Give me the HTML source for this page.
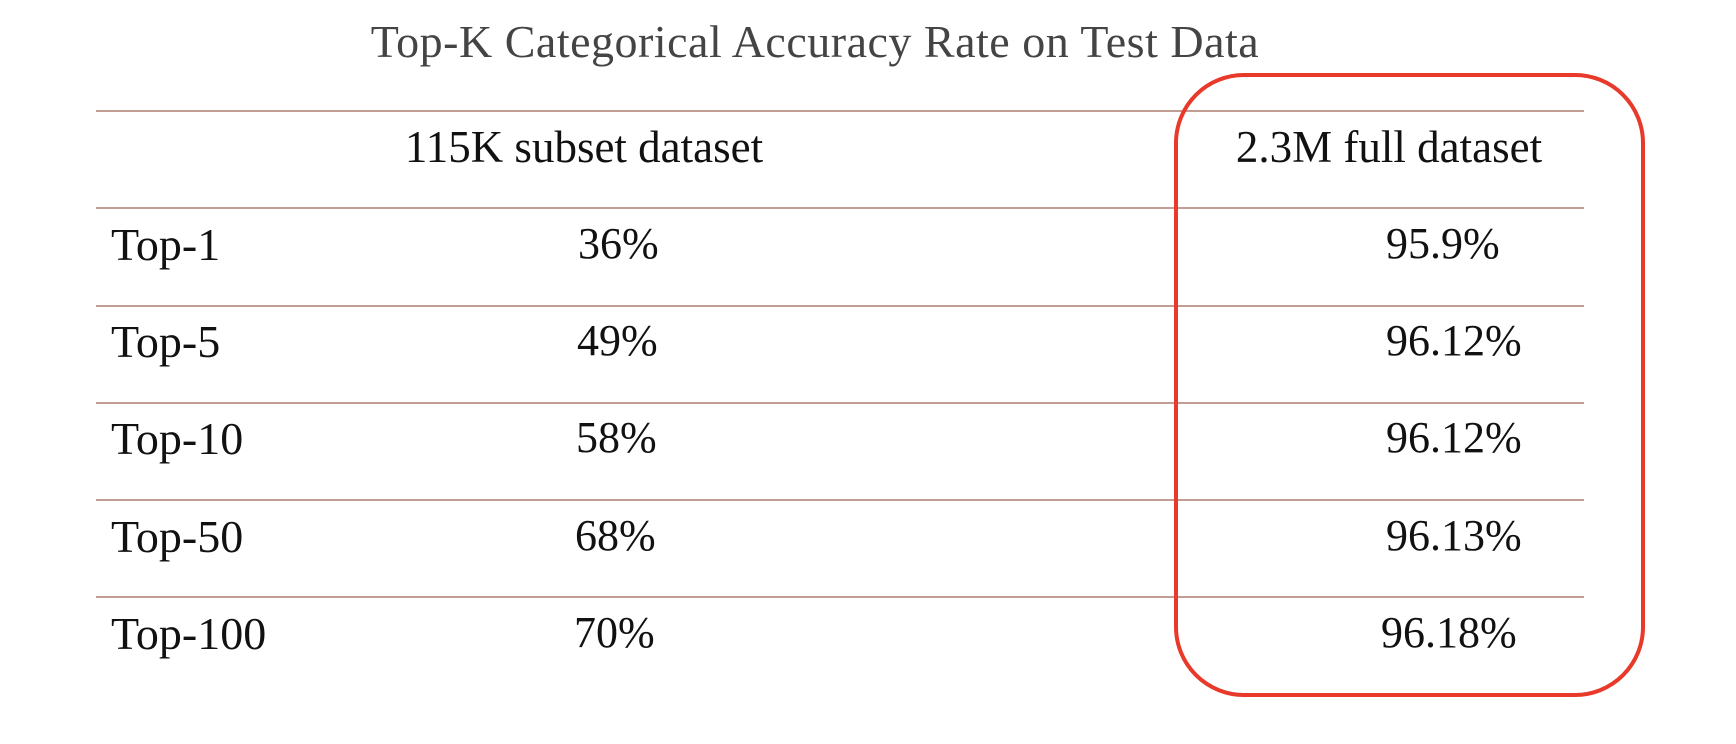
<!DOCTYPE html>
<html><head><meta charset="utf-8"><style>
html,body{margin:0;padding:0;background:#fff;}
#root{position:relative;width:1736px;height:744px;overflow:hidden;font-family:"Liberation Serif",serif;color:#111;}
.t{position:absolute;white-space:nowrap;line-height:1;}
.line{position:absolute;left:96px;width:1488px;height:2px;background:#c19d94;}
</style></head><body>
<div id="root">
<div class="t" style="left:0;width:1630px;text-align:center;top:19px;font-size:46px;color:#444;letter-spacing:0.5px;">Top-K Categorical Accuracy Rate on Test Data</div>
<div id="rows"></div>
<svg style="position:absolute;left:0;top:0" width="1736" height="744">
<rect x="1176" y="75" width="467" height="620" rx="68" ry="68" fill="none" stroke="#e8392b" stroke-width="4"/>
</svg>
</div>
<script>
const labels=["Top-1","Top-5","Top-10","Top-50","Top-100"];
const subset=["36%","49%","58%","68%","70%"];
const full=["95.9%","96.12%","96.12%","96.13%","96.18%"];
const root=document.getElementById('rows');
function add(txt,left,top,size,name,align){
  const d=document.createElement('div');
  d.className='t';d.textContent=txt;
  d.style.left=left+'px';d.style.top=top+'px';d.style.fontSize=size+'px';
  if(align){d.style.width='400px';d.style.marginLeft='-200px';d.style.textAlign='center';}
  
  
  root.appendChild(d);
}
const lineYs=[110,207,305,402,499,596];
lineYs.forEach((y,i)=>{
  const l=document.createElement('div');l.className='line';l.style.top=y+'px';
  
  
  root.appendChild(l);
});
add("115K subset dataset",584,125,45,'subset-header',true);
add("2.3M full dataset",1389,125,45,'full-header',true);
labels.forEach((lb,i)=>{
  const top=222+i*97.2;
  add(lb,111,top,46,'row-label');
  add(subset[i],578-i,top,44,'subset-value');
  add(full[i],1386-(i>3?5:0),top,44,'full-value');
});
</script>
</body></html>
